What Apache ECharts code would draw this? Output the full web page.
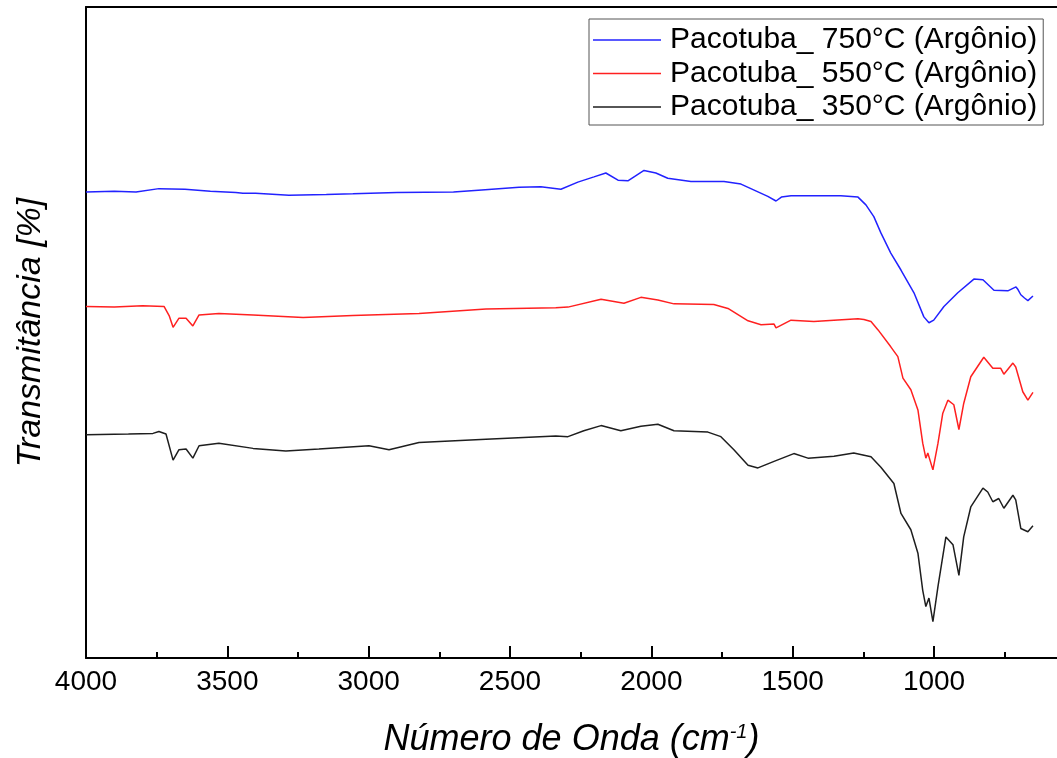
<!DOCTYPE html>
<html>
<head>
<meta charset="utf-8">
<script src="https://cdn.jsdelivr.net/npm/echarts@6/dist/echarts.min.js"></script>
<style>
  html, body { margin: 0; padding: 0; background: #fff; }
  #chart { width: 1057px; height: 758px; }
</style>
</head>
<body>
<div id="chart"></div>
<script>
// wavenumbers (cm-1) and transmittance (arb. %)
const wave750 = [4000, 3900, 3823, 3742, 3650, 3560, 3470, 3445, 3400, 3282, 3150, 3056, 2900, 2700, 2600,
  2468, 2391, 2320, 2260, 2203, 2161, 2118, 2083, 2026, 1984, 1942, 1860, 1743, 1683, 1648,
  1588, 1559, 1540, 1506, 1400, 1330, 1269, 1241, 1213, 1188, 1153, 1117, 1071, 1036, 1018,
  1001, 965, 916, 859, 827, 788, 739, 710, 703, 693, 680, 668, 650];
const trans750 = [71.6, 71.7, 71.6, 72.1, 72.0, 71.7, 71.5, 71.4, 71.4, 71.1, 71.2, 71.3, 71.5, 71.6, 71.9,
  72.3, 72.4, 72.0, 73.1, 73.9, 74.5, 73.4, 73.3, 74.9, 74.5, 73.7, 73.2, 73.2, 72.8, 72.1,
  70.9, 70.2, 70.8, 71.0, 71.0, 71.0, 70.8, 69.6, 67.8, 65.3, 62.2, 59.6, 56.1, 52.4, 51.5,
  51.9, 54.0, 56.1, 58.2, 58.1, 56.5, 56.4, 57.0, 56.6, 55.8, 55.3, 54.9, 55.6];

const wave550 = [4000, 3900, 3800, 3724, 3705, 3692, 3671, 3646, 3622, 3600, 3530, 3409, 3232, 3056, 2822,
  2585, 2338, 2295, 2178, 2097, 2037, 1977, 1920, 1779, 1729, 1658, 1612, 1566, 1559, 1506,
  1425, 1269, 1248, 1223, 1198, 1153, 1128, 1110, 1082, 1057, 1040, 1029, 1022, 1004, 986,
  969, 951, 930, 912, 895, 870, 824, 792, 764, 753, 721, 711, 686, 668, 650];
const trans550 = [54.0, 53.9, 54.1, 54.0, 52.5, 50.8, 52.2, 52.2, 51.0, 52.7, 52.9, 52.7, 52.3, 52.6, 52.9,
  53.6, 53.8, 53.9, 55.1, 54.5, 55.4, 55.0, 54.4, 54.3, 53.7, 51.8, 51.2, 51.3, 50.7, 51.9,
  51.7, 52.1, 52.0, 51.7, 50.4, 47.8, 46.3, 43.0, 41.2, 38.1, 33.0, 30.7, 31.5, 28.9, 33.0,
  37.6, 39.6, 38.9, 35.1, 39.1, 43.2, 46.2, 44.5, 44.5, 43.6, 45.3, 44.7, 40.9, 39.6, 40.8];

const wave350 = [4000, 3850, 3763, 3742, 3717, 3692, 3671, 3646, 3622, 3600, 3530, 3409, 3293, 3176, 2999,
  2928, 2822, 2585, 2338, 2295, 2239, 2178, 2108, 2037, 1977, 1920, 1800, 1754, 1708, 1658,
  1623, 1566, 1496, 1446, 1354, 1284, 1223, 1188, 1142, 1117, 1082, 1057, 1040, 1029, 1018,
  1004, 986, 958, 933, 912, 895, 870, 827, 810, 792, 771, 753, 721, 711, 693, 668, 650];
const trans350 = [34.3, 34.4, 34.5, 34.8, 34.4, 30.4, 32.0, 32.1, 30.7, 32.6, 33.0, 32.2, 31.8, 32.1, 32.6,
  32.0, 33.1, 33.6, 34.1, 34.0, 34.9, 35.7, 34.9, 35.6, 35.9, 34.9, 34.7, 34.0, 32.0, 29.6,
  29.2, 30.2, 31.4, 30.7, 31.0, 31.5, 30.9, 29.3, 26.8, 22.2, 19.7, 16.1, 10.4, 7.9, 9.2,
  5.6, 11.0, 18.6, 17.4, 12.7, 18.6, 23.2, 26.1, 25.5, 24.0, 24.5, 23.0, 25.0, 24.3, 19.9, 19.4, 20.3];

const seriesNames = ["Pacotuba_ 750°C (Argônio)", "Pacotuba_ 550°C (Argônio)", "Pacotuba_ 350°C (Argônio)"];
const xLabels = [4000, 3500, 3000, 2500, 2000, 1500, 1000];
const xMinorTicks = [3750, 3250, 2750, 2250, 1750, 1250, 750];

const FONT = "Liberation Sans";
const zip = (xs, ys) => xs.map((x, i) => [x, ys[i]]);

const chart = echarts.init(document.getElementById("chart"), null, { renderer: "canvas" });

const lineSeries = (name, data, color) => ({
  name,
  type: "line",
  data,
  showSymbol: false,
  symbol: "none",
  smooth: false,
  lineStyle: { color, width: 1.5 },
  itemStyle: { color },
});

chart.setOption({
  animation: false,
  backgroundColor: "#fff",
  // right edge of the plot is cut off by the picture, axis runs past it
  grid: { left: 86, top: 7, bottom: 100, right: 0, outerBoundsMode: "none" },
  legend: {
    data: seriesNames,
    orient: "vertical",
    left: 589,
    top: 19,
    padding: [6, 6, 3, 4],
    itemGap: 3.5,
    icon: "rect",
    itemWidth: 68,
    itemHeight: 1.5,
    borderColor: "#555",
    borderWidth: 1,
    textStyle: {
      fontFamily: FONT,
      fontSize: 30,
      color: "#000",
      lineHeight: 30,
      padding: [0, 0, 0, 4],
    },
  },
  xAxis: [
    {
      type: "value",
      inverse: true,
      min: 565,
      max: 4000,
      name: "Número de Onda (cm{sup|-1})",
      nameLocation: "middle",
      nameGap: 64,
      nameTextStyle: {
        fontFamily: FONT,
        fontSize: 36,
        fontStyle: "italic",
        color: "#000",
        rich: {
          sup: { fontFamily: FONT, fontSize: 20, fontStyle: "italic", color: "#000", verticalAlign: "top", padding: [0, 0, 16, 0] },
        },
      },
      axisLine: { show: true, lineStyle: { color: "#000", width: 2 } },
      axisTick: {
        show: true,
        inside: true,
        length: 12,
        customValues: xLabels,
        lineStyle: { color: "#000", width: 2 },
      },
      splitLine: { show: false },
      axisLabel: {
        margin: 10,
        fontFamily: FONT,
        fontSize: 28,
        color: "#000",
        customValues: xLabels,
        formatter: (v) => String(v),
      },
    },
    {
      // short ticks halfway between labelled ones
      type: "value",
      inverse: true,
      min: 565,
      max: 4000,
      position: "bottom",
      axisLine: { show: false },
      axisTick: {
        show: true,
        inside: true,
        length: 6,
        customValues: xMinorTicks,
        lineStyle: { color: "#000", width: 2 },
      },
      axisLabel: { show: false },
      splitLine: { show: false },
    },
    {
      // top frame line
      type: "value",
      inverse: true,
      min: 565,
      max: 4000,
      position: "top",
      axisLine: { show: true, lineStyle: { color: "#000", width: 2 } },
      axisTick: { show: false },
      axisLabel: { show: false },
      splitLine: { show: false },
    },
  ],
  yAxis: {
    type: "value",
    min: 0,
    max: 100,
    name: "Transmitância [%]",
    nameLocation: "middle",
    nameGap: 38,
    nameTextStyle: {
      fontFamily: FONT,
      fontSize: 34,
      fontStyle: "italic",
      color: "#000",
    },
    axisLine: { show: true, lineStyle: { color: "#000", width: 2 } },
    axisTick: { show: false },
    axisLabel: { show: false },
    splitLine: { show: false },
  },
  series: [
    lineSeries(seriesNames[0], zip(wave750, trans750), "#2222ff"),
    lineSeries(seriesNames[1], zip(wave550, trans550), "#ff2020"),
    lineSeries(seriesNames[2], zip(wave350, trans350), "#1e1e1e"),
  ],
});
</script>
</body>
</html>
